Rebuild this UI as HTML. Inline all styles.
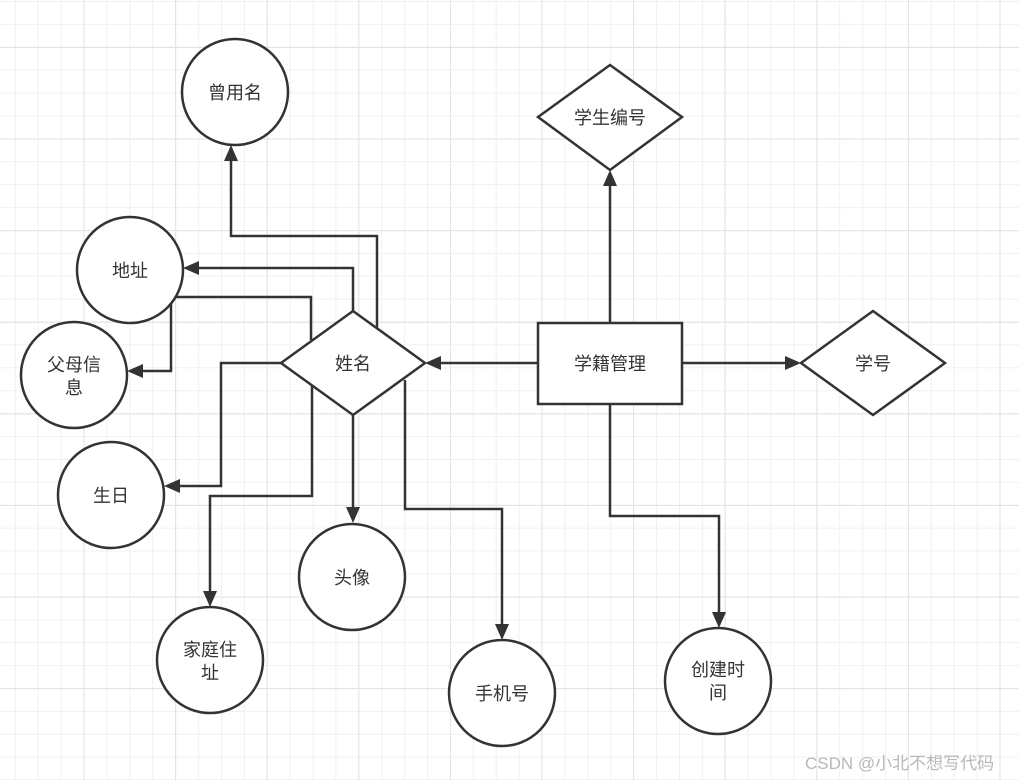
<!DOCTYPE html>
<html><head><meta charset="utf-8"><style>
html,body{margin:0;padding:0;background:#fff;}
svg{display:block;}
text{font-family:"Liberation Sans","Noto Sans CJK SC",sans-serif;font-size:18px;fill:#333;}
</style></head><body>
<svg width="1019" height="780" xmlns="http://www.w3.org/2000/svg">
<defs>
<pattern id="minor" x="-8" y="1" width="22.9" height="22.9" patternUnits="userSpaceOnUse">
<path d="M0 0H22.9M0 0V22.9" stroke="#ececec" stroke-width="1.5" fill="none"/>
</pattern>
<pattern id="major" x="83.5" y="47" width="91.6" height="91.6" patternUnits="userSpaceOnUse">
<path d="M0 0H91.6M0 0V91.6" stroke="#e2e2e2" stroke-width="2" fill="none"/>
</pattern>
<marker id="a" viewBox="0 0 10 10" refX="10" refY="5" markerWidth="6" markerHeight="6" markerUnits="userSpaceOnUse" orient="auto">
</marker>
</defs>
<rect width="1019" height="780" fill="#fff"/>
<rect width="1019" height="780" fill="url(#minor)"/>
<rect width="1019" height="780" fill="url(#major)"/>

<g stroke="#333" stroke-width="2.5" fill="none">
<!-- 学籍管理 connectors -->
<path d="M538 363H440"/>
<path d="M682 363H786"/>
<path d="M610 323V185"/>
<path d="M610 404V516H719V613"/>
<!-- 姓名 connectors -->
<path d="M377 330V236H231V160"/>
<path d="M353 311V268H198"/>
<path d="M311 340V297H171V371H142"/>
<path d="M281 363H221V486H179"/>
<path d="M312 385V496H210V592"/>
<path d="M353 415V508"/>
<path d="M405 380V509H502V625"/>
</g>
<g fill="#333">
<polygon points="425,363 441,356 441,370"/>
<polygon points="801,363 785,356 785,370"/>
<polygon points="610,170 603,186 617,186"/>
<polygon points="719,628 712,612 726,612"/>
<polygon points="231,145 224,161 238,161"/>
<polygon points="183,268 199,261 199,275"/>
<polygon points="127,371 143,364 143,378"/>
<polygon points="164,486 180,479 180,493"/>
<polygon points="210,607 203,591 217,591"/>
<polygon points="353,523 346,507 360,507"/>
<polygon points="502,640 495,624 509,624"/>
</g>

<g stroke="#333" stroke-width="2.5" fill="#fff">
<circle cx="235" cy="92" r="53"/>
<circle cx="130" cy="270" r="53"/>
<circle cx="74" cy="375" r="53"/>
<circle cx="111" cy="495" r="53"/>
<circle cx="352" cy="577" r="53"/>
<circle cx="210" cy="660" r="53"/>
<circle cx="502" cy="693" r="53"/>
<circle cx="718" cy="681" r="53"/>
<polygon points="353,311 425,363 353,415 281,363"/>
<polygon points="610,65 682,117 610,170 538,117"/>
<polygon points="873,311 945,363 873,415 801,363"/>
<rect x="538" y="323" width="144" height="81"/>
</g>

<g text-anchor="middle">
<text x="235" y="99">曾用名</text>
<text x="130" y="277">地址</text>
<text x="74" y="371">父母信</text>
<text x="74" y="394">息</text>
<text x="111" y="502">生日</text>
<text x="352" y="584">头像</text>
<text x="210" y="656">家庭住</text>
<text x="210" y="679">址</text>
<text x="502" y="700">手机号</text>
<text x="718" y="676">创建时</text>
<text x="718" y="699">间</text>
<text x="353" y="370">姓名</text>
<text x="610" y="124">学生编号</text>
<text x="873" y="370">学号</text>
<text x="610" y="370">学籍管理</text>
</g>
<text x="805" y="769" style="font-size:17px;fill:#b8b8b8">CSDN @小北不想写代码</text>
</svg>
</body></html>
